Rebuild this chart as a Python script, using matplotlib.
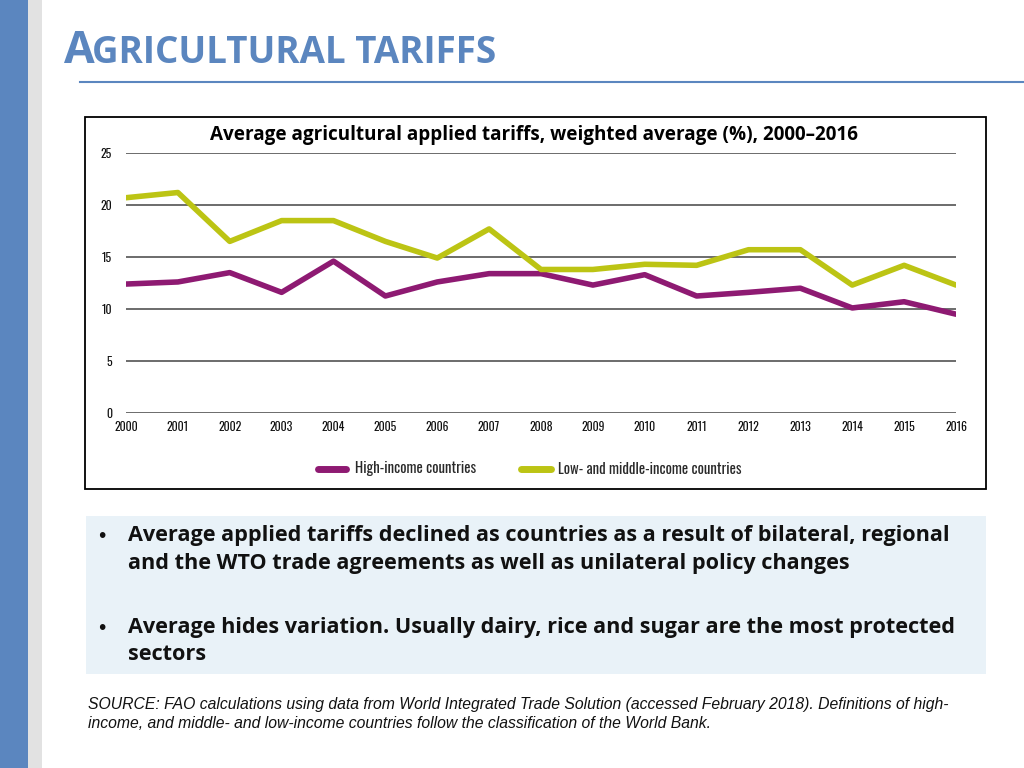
import matplotlib
matplotlib.use("Agg")
import matplotlib.pyplot as plt
from matplotlib.patches import Rectangle
from matplotlib.lines import Line2D

years = list(range(2000, 2017))
high_income = [12.4, 12.6, 13.5, 11.6, 14.6, 11.25, 12.6, 13.4, 13.4, 12.3,
               13.3, 11.25, 11.6, 12.0, 10.1, 10.7, 9.5]
low_middle = [20.7, 21.2, 16.5, 18.5, 18.5, 16.5, 14.9, 17.7, 13.8, 13.8,
              14.3, 14.2, 15.7, 15.7, 12.3, 14.2, 12.3]
yticks = [0, 5, 10, 15, 20, 25]
series_names = ["High-income countries", "Low- and middle-income countries"]

purple = "#8e1a72"
olive = "#bcc414"
blue = "#5b86bf"
narrow = ["Oswald", "Roboto Condensed", "Archivo Narrow", "Liberation Sans"]
# bold text: a normal-width sans face
bold_sans = ["Open Sans", "Roboto", "DejaVu Sans"]
sans = ["Liberation Sans", "DejaVu Sans"]

W, H = 1024, 768
fig = plt.figure(figsize=(W / 100, H / 100), dpi=100)

def px(x, y):
    # pixel coords (top-left origin) -> figure fraction
    return x / W, 1 - y / H

def rect(x0, y0, x1, y1, **kw):
    fx, fy = px(x0, y1)
    fig.patches.append(Rectangle((fx, fy), (x1 - x0) / W, (y1 - y0) / H,
                                 transform=fig.transFigure, **kw))

# slide decoration
rect(0, 0, 28, 768, facecolor=blue, edgecolor="none")
rect(28, 0, 42, 768, facecolor="#e2e2e2", edgecolor="none")
fig.add_artist(Line2D([80 / W, 1], [1 - 82 / H] * 2, color=blue, lw=1.5,
                      transform=fig.transFigure))
fig.text(*px(64, 63), "A", fontsize=32, fontweight="bold", color=blue,
         family=bold_sans, fontstretch="normal", va="baseline")
fig.text(*px(92, 63), "GRICULTURAL TARIFFS", fontsize=26.5, fontweight="bold",
         color=blue, family=bold_sans, fontstretch="normal", va="baseline")

# chart frame
rect(85, 117, 986, 489, facecolor="white", edgecolor="black", lw=1.3)
fig.text(*px(534, 135), "Average agricultural applied tariffs, weighted average (%), 2000\u20132016",
         fontsize=13.6, fontweight="bold", family=bold_sans, fontstretch="normal",
         ha="center", va="center")

l, b = px(126, 413)
r, t = px(956, 153)
ax = fig.add_axes([l, b, r - l, t - b])
ax.set_zorder(3)
for v in yticks:
    ax.axhline(v, color="#444444", lw=1.1, zorder=1)
ax.plot(years, high_income, color=purple, lw=4, solid_capstyle="round",
        solid_joinstyle="round", zorder=3)
ax.plot(years, low_middle, color=olive, lw=4, solid_capstyle="round",
        solid_joinstyle="round", zorder=3)
ax.set_xlim(2000, 2016)
ax.set_ylim(0, 25)
ax.set_facecolor("none")
for s in ax.spines.values():
    s.set_visible(False)
ax.set_yticks(yticks)
ax.set_xticks(years)
ax.tick_params(length=0, labelsize=8.5, colors="#111111")
ax.tick_params(axis="y", pad=10)
ax.tick_params(axis="x", pad=6)
for lab in ax.get_xticklabels() + ax.get_yticklabels():
    lab.set_family(narrow)
    lab.set_fontweight("bold")

# legend
for (x0, x1, tx), name, c in zip([(318, 346, 355), (521, 551, 558)], series_names, [purple, olive]):
    fig.add_artist(Line2D([x0 / W, x1 / W], [1 - 469 / H] * 2, color=c, lw=5,
                          solid_capstyle="round", transform=fig.transFigure))
    fig.text(*px(tx, 469), name, fontsize=10.7, family=narrow, color="#2a2a2a",
             va="center")

# bullet box
rect(86, 516, 986, 674, facecolor="#e9f2f8", edgecolor="none")
bullets = [
    (536, "Average applied tariffs declined as countries as a result of bilateral, regional"),
    (563, "and the WTO trade agreements as well as unilateral policy changes"),
    (628, "Average hides variation. Usually dairy, rice and sugar are the most protected"),
    (655, "sectors"),
]
for y, txt in bullets:
    fig.text(*px(128, y), txt, fontsize=15.6, fontweight="bold",
             family=bold_sans, fontstretch="normal", va="center", color="#111111")
for y in (536, 628):
    fig.text(*px(98, y), "\u2022", fontsize=15, family=sans,
             va="center", color="#111111")

fig.text(*px(88, 705), "SOURCE: FAO calculations using data from World Integrated Trade Solution (accessed February 2018). Definitions of high-",
         fontsize=11.3, style="italic", family=sans, va="center", color="#111111")
fig.text(*px(88, 724), "income, and middle- and low-income countries follow the classification of the World Bank.",
         fontsize=11.3, style="italic", family=sans, va="center", color="#111111")

fig.savefig("out.png", dpi=100)
